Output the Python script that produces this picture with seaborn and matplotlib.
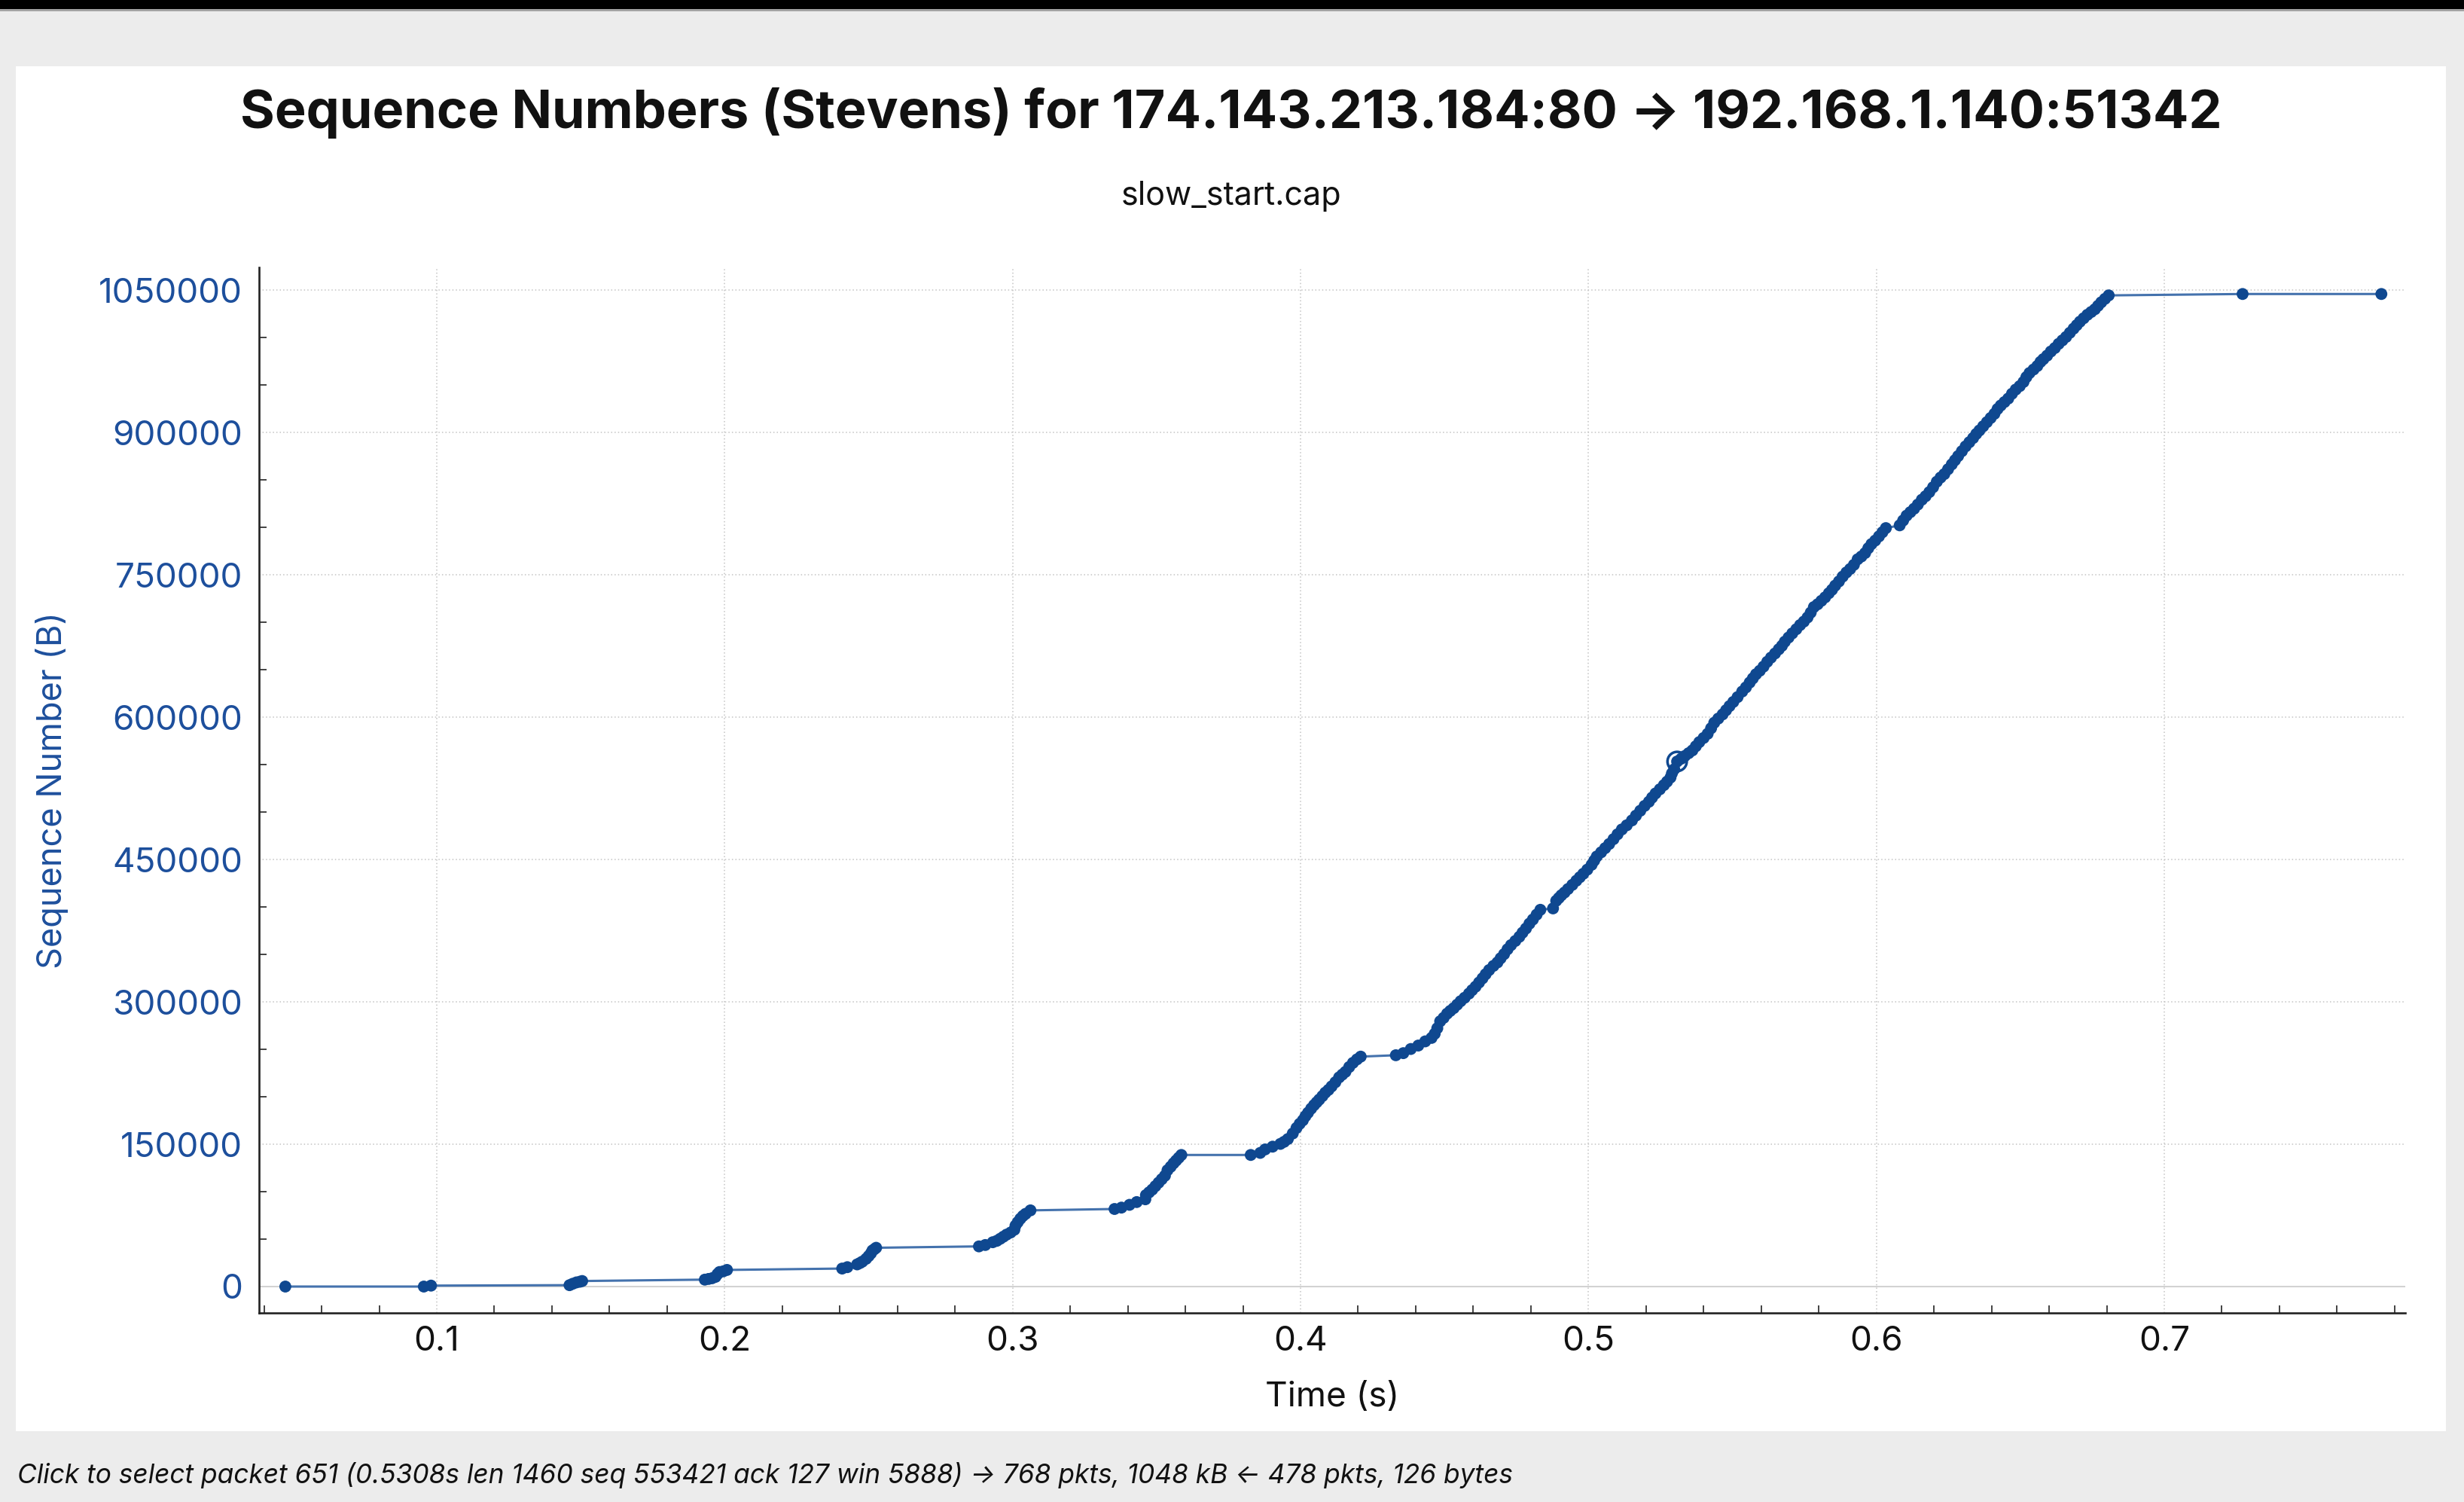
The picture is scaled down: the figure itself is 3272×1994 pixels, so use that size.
import matplotlib
matplotlib.use("Agg")
import matplotlib.pyplot as plt
from matplotlib import font_manager
from matplotlib.patches import Rectangle
from matplotlib.ticker import MultipleLocator
import pandas as pd
import seaborn as sns

# ---------------------------------------------------------------------------
# Data: TCP segments 174.143.213.184:80 -> 192.168.1.140:51342 (slow_start.cap)
# ---------------------------------------------------------------------------
time_s = [
    0.0474, 0.0955, 0.0980,
    0.1461, 0.1472, 0.1485, 0.1497, 0.1505,
    0.1931, 0.1944, 0.1956, 0.1968, 0.1975, 0.1982, 0.1995, 0.2008,
    0.2408, 0.2426, 0.2460, 0.2470, 0.2478, 0.2491, 0.2500, 0.2508, 0.2513, 0.2520, 0.2526,
    0.2883, 0.2905, 0.2931, 0.2945, 0.2957, 0.2968, 0.2979, 0.2993, 0.3006, 0.3010,
    0.3018, 0.3027, 0.3036, 0.3045, 0.3062,
    0.3354, 0.3378, 0.3406, 0.3431, 0.3461, 0.3463, 0.3474, 0.3485, 0.3496, 0.3507,
    0.3518, 0.3529, 0.3538, 0.3549, 0.3559, 0.3568, 0.3577, 0.3586,
    0.3827, 0.3860, 0.3877, 0.3903, 0.3930, 0.3943, 0.3956, 0.3973, 0.3986, 0.3997,
    0.4008, 0.4017, 0.4026, 0.4037, 0.4047, 0.4056, 0.4065, 0.4076, 0.4086, 0.4097,
    0.4108, 0.4121, 0.4134, 0.4145, 0.4156, 0.4169, 0.4182, 0.4196, 0.4209,
    0.4331, 0.4357, 0.4383, 0.4409, 0.4433, 0.4455, 0.4466, 0.4475, 0.4485, 0.4497,
    0.4509, 0.4520, 0.4532, 0.4544, 0.4556, 0.4570, 0.4585, 0.4596, 0.4608, 0.4620,
    0.4632, 0.4643, 0.4655, 0.4670, 0.4684, 0.4695, 0.4707, 0.4719, 0.4731, 0.4746,
    0.4760, 0.4771, 0.4783, 0.4795, 0.4807, 0.4820, 0.4833,
    0.4877, 0.4888, 0.4897, 0.4906, 0.4917, 0.4929, 0.4944, 0.4958, 0.4970, 0.4982,
    0.4996, 0.5011, 0.5020, 0.5029, 0.5044, 0.5058, 0.5072, 0.5087, 0.5101, 0.5116,
    0.5133, 0.5151, 0.5165, 0.5180, 0.5195, 0.5210, 0.5221, 0.5233, 0.5248, 0.5262,
    0.5273, 0.5285, 0.5290, 0.5298, 0.5308, 0.5322, 0.5335, 0.5348, 0.5361, 0.5373,
    0.5385, 0.5400, 0.5414, 0.5426, 0.5437, 0.5451, 0.5466, 0.5478, 0.5490, 0.5503,
    0.5518, 0.5534, 0.5547, 0.5560, 0.5571, 0.5582, 0.5595, 0.5608, 0.5621, 0.5634,
    0.5648, 0.5661, 0.5672, 0.5682, 0.5695, 0.5708, 0.5722, 0.5735, 0.5748, 0.5761,
    0.5772, 0.5783, 0.5796, 0.5809, 0.5822, 0.5835, 0.5846, 0.5857, 0.5870, 0.5883,
    0.5896, 0.5909, 0.5922, 0.5935, 0.5948, 0.5961, 0.5972, 0.5983, 0.5996, 0.6009,
    0.6021, 0.6033,
    0.6081, 0.6093, 0.6105, 0.6118, 0.6131, 0.6144, 0.6158, 0.6171, 0.6184, 0.6197,
    0.6210, 0.6223, 0.6236, 0.6249, 0.6262, 0.6273, 0.6284, 0.6297, 0.6310, 0.6323,
    0.6336, 0.6347, 0.6358, 0.6371, 0.6384, 0.6397, 0.6410, 0.6421, 0.6432, 0.6445,
    0.6458, 0.6471, 0.6484, 0.6498, 0.6511, 0.6521, 0.6532, 0.6546, 0.6559, 0.6570,
    0.6580, 0.6593, 0.6606, 0.6620, 0.6633, 0.6646, 0.6659, 0.6672, 0.6685, 0.6696,
    0.6707, 0.6720, 0.6733, 0.6746, 0.6759, 0.6770, 0.6781, 0.6794, 0.6807,
    0.7272, 0.7754,
]

seq_bytes = [
    0, 0, 1000,
    1460, 2920, 4380, 5100, 5840,
    7300, 8030, 8760, 10220, 13140, 15330, 16060, 17520,
    18980, 20440, 23360, 24820, 26280, 29200, 32120, 35040, 37960, 39420, 40880,
    42340, 43800, 46720, 48180, 50370, 52560, 54750, 56940, 59860, 64240,
    67890, 71540, 74460, 76650, 80300,
    81760, 83220, 86140, 89060, 91980, 96360, 99280, 102200, 105850, 109500,
    113150, 116800, 122640, 126290, 129940, 132860, 135780, 138700,
    138700, 140890, 144540, 147460, 150380, 152570, 155490, 161330, 167170, 171550,
    175200, 179580, 183230, 187610, 191260, 194180, 197100, 200750, 204400, 207320,
    210970, 215350, 220460, 223380, 226300, 231410, 235790, 239440, 242360,
    243820, 246010, 250390, 254040, 258420, 262070, 266450, 272290, 279590, 283240,
    287620, 290540, 293460, 297110, 300760, 304410, 308790, 312440, 316090, 320470,
    324850, 329230, 333610, 337990, 341640, 346020, 350400, 355510, 359890, 364270,
    368650, 373030, 377410, 382520, 386900, 392010, 397120,
    398580, 406610, 409530, 412450, 415370, 419020, 423400, 427780, 431430, 435080,
    439460, 444570, 448950, 453330, 457710, 462090, 466470, 471580, 476690, 481800,
    486180, 491290, 496400, 501510, 506620, 511000, 515380, 519760, 524140, 528520,
    532170, 536550, 540930, 545310, 553421, 556340, 559260, 562180, 565100, 569480,
    573860, 578240, 582620, 588460, 594300, 598680, 603060, 607440, 611820, 616200,
    621310, 627150, 631530, 636640, 641020, 645400, 649050, 653430, 658540, 662920,
    667300, 671680, 675330, 679710, 684090, 688470, 692850, 697230, 700880, 705260,
    710370, 716210, 719130, 722780, 726430, 730810, 734460, 738840, 743220, 748330,
    752710, 756360, 760740, 766580, 769500, 773150, 778260, 782640, 786290, 790670,
    795050, 799430,
    802350, 807460, 812570, 816220, 819870, 824250, 829360, 833010, 837390, 842500,
    848340, 852720, 856370, 861480, 866590, 870970, 875350, 880460, 885570, 889950,
    894330, 898710, 902360, 906740, 911120, 915500, 919880, 924990, 928640, 932290,
    935940, 941050, 945430, 949080, 953460, 958570, 962950, 966600, 970250, 974630,
    977550, 981200, 985580, 989230, 993610, 997260, 1000910, 1005290, 1009670, 1013320,
    1016970, 1020620, 1024270, 1027190, 1030110, 1033760, 1037410, 1041060, 1044710,
    1046170, 1046170,
]

# packet currently under the cursor
selected_time = 0.5308
selected_seq = 553421

x_ticks = [0.1, 0.2, 0.3, 0.4, 0.5, 0.6, 0.7]
y_ticks = [0, 150000, 300000, 450000, 600000, 750000, 900000, 1050000]

title_text = "Sequence Numbers (Stevens) for 174.143.213.184:80 \u2192 192.168.1.140:51342"
subtitle_text = "slow_start.cap"
x_label = "Time (s)"
y_label = "Sequence Number (B)"
status_text = ("Click to select packet 651 (0.5308s len 1460 seq 553421 ack 127 win 5888) "
               "\u2192 768 pkts, 1048 kB \u2190 478 pkts, 126 bytes")

# ---------------------------------------------------------------------------
# Style
# ---------------------------------------------------------------------------
DOT = "#0f4890"
LINE = "#4472ad"
AXIS_BLUE = "#1d4f9c"
GRID = "#c4c4c4"

sns.set_theme(style="white")
plt.rcParams["font.family"] = ["Inter", "DejaVu Sans"]

W, H = 3273, 1994
fig = plt.figure(figsize=(W / 100, H / 100), dpi=100, facecolor="#ececec")

# window chrome: dark strip on top, white graph panel (kept behind the axes)
fig.patches.append(Rectangle((0, 1 - 12 / H), 1, 12 / H, transform=fig.transFigure,
                             facecolor="black", edgecolor="none", zorder=-10))
fig.patches.append(Rectangle((0, 1 - 15 / H), 1, 3 / H, transform=fig.transFigure,
                             facecolor="#a3a3a3", edgecolor="none", zorder=-10))
fig.patches.append(Rectangle((21 / W, 1 - 1900 / H), 3227 / W, 1812 / H,
                             transform=fig.transFigure, facecolor="white",
                             edgecolor="none", zorder=-10))

ax = fig.add_axes([344 / W, 1 - 1743 / H, 2850 / W, 1388 / H])
ax.set_zorder(5)
ax.set_facecolor("white")

df = pd.DataFrame({"time": time_s, "seq": seq_bytes})
sns.lineplot(data=df, x="time", y="seq", sort=False, estimator=None,
             color=LINE, linewidth=2.2, ax=ax, zorder=3)
sns.scatterplot(data=df, x="time", y="seq", s=130, color=DOT, edgecolor="none",
                linewidth=0, ax=ax, zorder=4, legend=False)
ax.scatter([selected_time], [selected_seq], s=340, facecolors="none",
           edgecolors=DOT, linewidths=2.5, zorder=5)

ax.axhline(0, color="#d2d2d2", linewidth=1.5, zorder=1)

ax.set_xlim(0.03827, 0.7837)
ax.set_ylim(-27800, 1074200)

ax.set_xticks(x_ticks)
ax.set_xticklabels([f"{v:.1f}" for v in x_ticks])
ax.set_yticks(y_ticks)
ax.set_yticklabels([str(v) for v in y_ticks])
ax.xaxis.set_minor_locator(MultipleLocator(0.02))
ax.yaxis.set_minor_locator(MultipleLocator(50000))

ax.tick_params(which="major", direction="in", length=14, width=1.5, color="#222222")
ax.tick_params(which="minor", direction="in", length=7, width=1.2, color="#222222",
               bottom=True, left=True)
ax.tick_params(axis="x", which="major", labelsize=33, labelcolor="#111111", pad=12)
ax.tick_params(axis="y", which="major", labelsize=33, labelcolor=AXIS_BLUE, pad=16)

ax.grid(True, which="major", color=GRID, linestyle=(0, (1, 2)), linewidth=1.1)
ax.set_axisbelow(True)

for side in ("top", "right"):
    ax.spines[side].set_visible(False)
for side in ("left", "bottom"):
    ax.spines[side].set_color("#222222")
    ax.spines[side].set_linewidth(1.9)

ax.set_xlabel(x_label, fontsize=33, color="#111111", va="center")
ax.xaxis.set_label_coords(0.5, (1743 - 1855) / 1388)
ax.set_ylabel(y_label, fontsize=32.5, color=AXIS_BLUE, va="center")
ax.yaxis.set_label_coords((69 - 344) / 2850, 0.5)

fig.text(0.4994, 1 - 170 / H, title_text, ha="center", va="baseline",
         fontsize=50.5, fontweight="bold", color="#111111")
fig.text(0.4994, 1 - 272 / H, subtitle_text, ha="center", va="baseline",
         fontsize=31, color="#111111")

italic_families = {f.name for f in font_manager.fontManager.ttflist
                   if f.style in ("italic", "oblique")}
status_family = next((f for f in ["Inter", "Roboto", "Open Sans", "Lato",
                                  "Noto Sans", "DejaVu Sans"] if f in italic_families),
                     "DejaVu Sans")
fig.text(23 / W, 1 - 1958 / H, status_text, ha="left", va="center",
         fontsize=25.4, style="italic", color="#111111",
         family=[status_family, "DejaVu Sans"])

fig.savefig("out.png", dpi=100, facecolor=fig.get_facecolor())
